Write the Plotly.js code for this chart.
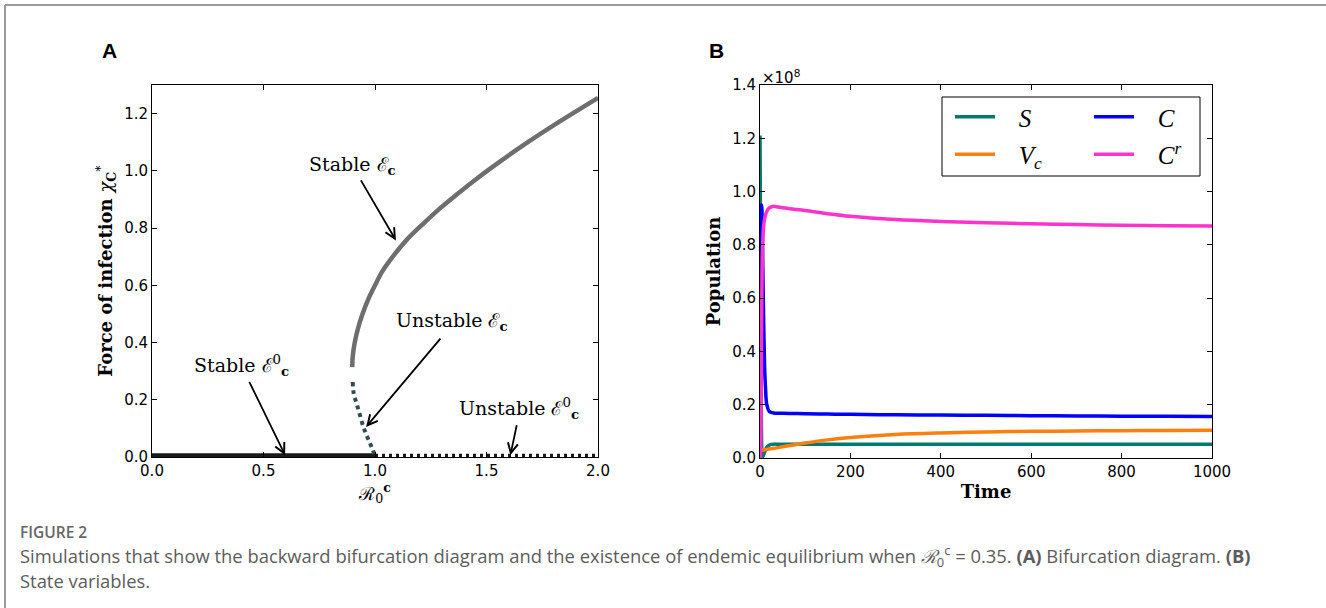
<!DOCTYPE html>
<html>
<head>
<meta charset="utf-8">
<script src="https://cdn.plot.ly/plotly-3.0.1.min.js"></script>
<style>
  html, body { margin: 0; padding: 0; background: #fff; }
  #chart { width: 1326px; height: 608px; }
</style>
</head>
<body>
<div id="chart"></div>
<script>
var W = 1326, H = 608;
function px(x) { return x / W; }
function py(y) { return 1 - y / H; }

// ---------- Panel A: bifurcation diagram ----------
var stableEcX = [0.898, 0.900, 0.909, 0.924, 0.944, 0.970, 1.000, 1.030, 1.067, 1.140, 1.216, 1.290, 1.366, 1.440, 1.515, 1.664, 1.813, 2.000];
var stableEcY = [0.314, 0.350, 0.400, 0.450, 0.500, 0.552, 0.600, 0.645, 0.687, 0.757, 0.815, 0.868, 0.917, 0.963, 1.007, 1.089, 1.165, 1.255];
var unstableEcX = [0.900, 0.905, 0.918, 0.933, 0.948, 0.963, 0.978, 0.990, 1.000];
var unstableEcY = [0.262, 0.220, 0.186, 0.145, 0.105, 0.075, 0.047, 0.025, 0.005];
var stableE0X = [0.0, 1.0];
var stableE0Y = [0.005, 0.005];
var unstableE0X = [1.0, 2.0];
var unstableE0Y = [0.005, 0.005];

// labels and arrows (text position, arrow tail, arrow head) in data units
var labelTexts = ['Stable ℰ<sub><b>c</b></sub>', 'Unstable ℰ<sub><b>c</b></sub>',
                  'Stable ℰ<sup>0</sup><sub><b>c</b></sub>', 'Unstable ℰ<sup>0</sup><sub><b>c</b></sub>'];
var labelX = [0.90, 1.345, 0.40, 1.646];
var labelY = [1.02, 0.472, 0.32, 0.171];
var arrowTailX = [0.933, 1.299, 0.433, 1.637];
var arrowTailY = [0.972, 0.419, 0.268, 0.116];
var arrowHeadX = [1.094, 0.960, 0.597, 1.607];
var arrowHeadY = [0.757, 0.105, 0.006, 0.006];

// ---------- Panel B: state variables (values in units of 1e8) ----------
var time = [0, 1, 2, 3, 4, 5, 6, 8, 10, 12, 15, 20, 25, 30, 40, 50, 75, 100, 150, 200, 300, 400, 500, 600, 700, 800, 900, 1000];
var S  = [1.21, 0.90, 0.45, 0.15, 0.03, 0.005, 0.005, 0.012, 0.022, 0.030, 0.040, 0.048, 0.051, 0.052, 0.052, 0.052, 0.052, 0.052, 0.052, 0.052, 0.052, 0.052, 0.052, 0.052, 0.052, 0.052, 0.052, 0.052];
var Vc = [0.025, 0.026, 0.027, 0.028, 0.029, 0.029, 0.030, 0.030, 0.031, 0.031, 0.032, 0.034, 0.035, 0.036, 0.039, 0.042, 0.049, 0.056, 0.068, 0.077, 0.088, 0.094, 0.098, 0.100, 0.1015, 0.1025, 0.1035, 0.104];
var C  = [0.02, 0.40, 0.80, 0.95, 0.94, 0.88, 0.75, 0.52, 0.35, 0.27, 0.20, 0.176, 0.171, 0.169, 0.168, 0.168, 0.167, 0.166, 0.165, 0.164, 0.162, 0.161, 0.160, 0.159, 0.158, 0.157, 0.157, 0.156];
var Cr = [0.0, 0.02, 0.10, 0.35, 0.60, 0.74, 0.80, 0.87, 0.895, 0.91, 0.925, 0.938, 0.943, 0.945, 0.942, 0.939, 0.934, 0.929, 0.917, 0.907, 0.895, 0.888, 0.883, 0.879, 0.876, 0.874, 0.872, 0.871];
var seriesNames = ['<i>S</i>', '<i>V<sub>c</sub></i>', '<i>C</i>', '<i>C<sup>r</sup></i>'];
var seriesColors = ['#007a6c', '#ff7f0e', '#0000ff', '#ff33cc'];
var seriesLegend = ['legend', 'legend', 'legend2', 'legend2'];

var serif = 'DejaVu Serif, serif';
var sans = 'DejaVu Sans, sans-serif';
var pad = '\u00a0\u00a0\u00a0';

var traces = [
  {x: stableE0X, y: stableE0Y, xaxis: 'x', yaxis: 'y', mode: 'lines', showlegend: false,
   line: {color: '#1a1a1a', width: 4.5}},
  {x: unstableE0X, y: unstableE0Y, xaxis: 'x', yaxis: 'y', mode: 'lines', showlegend: false,
   line: {color: '#1a1a1a', width: 3.5, dash: '3px,4px'}},
  {x: stableEcX, y: stableEcY, xaxis: 'x', yaxis: 'y', mode: 'lines', showlegend: false,
   line: {color: '#6e6e6e', width: 4.5, shape: 'spline', smoothing: 0.8}},
  {x: unstableEcX, y: unstableEcY, xaxis: 'x', yaxis: 'y', mode: 'lines', showlegend: false,
   line: {color: '#2f4f4f', width: 4, dash: '4px,4px', shape: 'spline'}}
];
var seriesData = [S, Vc, C, Cr];
for (var i = 0; i < 4; i++) {
  traces.push({x: time, y: seriesData[i], xaxis: 'x2', yaxis: 'y2', mode: 'lines',
    name: pad + seriesNames[i], legend: seriesLegend[i], legendgroup: 'g' + i,
    line: {color: seriesColors[i], width: 3.5, shape: 'spline'}});
}

var axisCommon = {
  showline: true, linecolor: '#000', linewidth: 1, mirror: 'allticks',
  ticks: 'inside', ticklen: 5, tickwidth: 1, tickcolor: '#000',
  showgrid: false, zeroline: false,
  tickfont: {family: sans, size: 15, color: '#000'}
};
function ax(extra) { return Object.assign({}, axisCommon, extra); }

var annotations = [];
for (var k = 0; k < labelTexts.length; k++) {
  annotations.push({x: labelX[k], y: labelY[k], xref: 'x', yref: 'y', text: labelTexts[k],
    showarrow: false, font: {family: serif, size: 19, color: '#000'}});
  annotations.push({x: arrowHeadX[k], y: arrowHeadY[k], ax: arrowTailX[k], ay: arrowTailY[k],
    xref: 'x', yref: 'y', axref: 'x', ayref: 'y', text: '', showarrow: true,
    arrowhead: 5, arrowsize: 1.1, arrowwidth: 1.8, arrowcolor: '#000', standoff: 0, startstandoff: 0});
}
annotations.push({x: px(760), y: py(77), xref: 'paper', yref: 'paper', xanchor: 'left', yanchor: 'middle',
  text: '×10<sup>8</sup>', showarrow: false, font: {family: sans, size: 15, color: '#000'}});
annotations.push({x: px(109), y: py(50), xref: 'paper', yref: 'paper', xanchor: 'center', yanchor: 'middle',
  text: '<b>A</b>', showarrow: false, font: {family: 'Liberation Sans, Arial, sans-serif', size: 21, color: '#000'}});
annotations.push({x: px(716), y: py(50), xref: 'paper', yref: 'paper', xanchor: 'center', yanchor: 'middle',
  text: '<b>B</b>', showarrow: false, font: {family: 'Liberation Sans, Arial, sans-serif', size: 21, color: '#000'}});
annotations.push({x: px(18), y: py(532), xref: 'paper', yref: 'paper', xanchor: 'left', yanchor: 'middle',
  text: 'FIGURE 2', showarrow: false, font: {family: 'Open Sans, sans-serif', size: 15.5, color: '#666', weight: 600}});
annotations.push({x: px(18), y: py(556), xref: 'paper', yref: 'paper', xanchor: 'left', yanchor: 'middle',
  text: 'Simulations that show the backward bifurcation diagram and the existence of endemic equilibrium when <i>ℛ</i><sub>0</sub><sup>c</sup> = 0.35. <b>(A)</b> Bifurcation diagram. <b>(B)</b>',
  showarrow: false, font: {family: 'Open Sans, sans-serif', size: 18.4, color: '#5c5c5c'}});
annotations.push({x: px(18), y: py(580), xref: 'paper', yref: 'paper', xanchor: 'left', yanchor: 'middle',
  text: 'State variables.', showarrow: false, font: {family: 'Open Sans, sans-serif', size: 18.4, color: '#5c5c5c'}});

var legendCommon = {yanchor: 'top', xanchor: 'left', orientation: 'v', bgcolor: 'rgba(0,0,0,0)',
  borderwidth: 0, tracegroupgap: 2, itemwidth: 40,
  font: {family: 'Liberation Serif, serif', size: 25, color: '#000'}};

var layout = {
  width: W, height: H,
  margin: {l: 0, r: 0, t: 0, b: 0, autoexpand: false},
  paper_bgcolor: '#fff', plot_bgcolor: '#fff',
  showlegend: true,
  xaxis: ax({domain: [px(152), px(598)], range: [0, 2], dtick: 0.5, tick0: 0, tickformat: '.1f', anchor: 'y',
    title: {text: 'ℛ<sub>0</sub><sup><b>c</b></sup>', font: {family: serif, size: 18, color: '#000'}, standoff: 2}}),
  yaxis: ax({domain: [py(457), py(85)], range: [0, 1.3], dtick: 0.2, tick0: 0, tickformat: '.1f', anchor: 'x',
    title: {text: '<b>Force of infection</b> <i>χ</i><sub><b>C</b></sub><sup>*</sup>', font: {family: serif, size: 18, color: '#000'}, standoff: 6}}),
  xaxis2: ax({domain: [px(760), px(1212)], range: [0, 1000], dtick: 200, tick0: 0, anchor: 'y2',
    title: {text: '<b>Time</b>', font: {family: serif, size: 18, color: '#000'}, standoff: 5}}),
  yaxis2: ax({domain: [py(458), py(85)], range: [0, 1.4], dtick: 0.2, tick0: 0, tickformat: '.1f', anchor: 'x2',
    title: {text: '<b>Population</b>', font: {family: serif, size: 18, color: '#000'}, standoff: 6}}),
  legend: Object.assign({}, legendCommon, {x: px(950), y: py(94)}),
  legend2: Object.assign({}, legendCommon, {x: px(1089), y: py(94)}),
  shapes: [
    {type: 'line', xref: 'paper', yref: 'paper', x0: px(5), x1: 1, y0: py(5), y1: py(5), line: {color: '#9a9a9a', width: 2}},
    {type: 'line', xref: 'paper', yref: 'paper', x0: px(5), x1: px(5), y0: py(5), y1: 0, line: {color: '#9a9a9a', width: 2}},
    {type: 'rect', xref: 'paper', yref: 'paper', x0: px(942), x1: px(1200), y0: py(97), y1: py(176),
     fillcolor: '#fff', line: {color: '#000', width: 1}, layer: 'above'}
  ],
  annotations: annotations
};

Plotly.newPlot('chart', traces, layout, {displayModeBar: false, staticPlot: true});
</script>
</body>
</html>
